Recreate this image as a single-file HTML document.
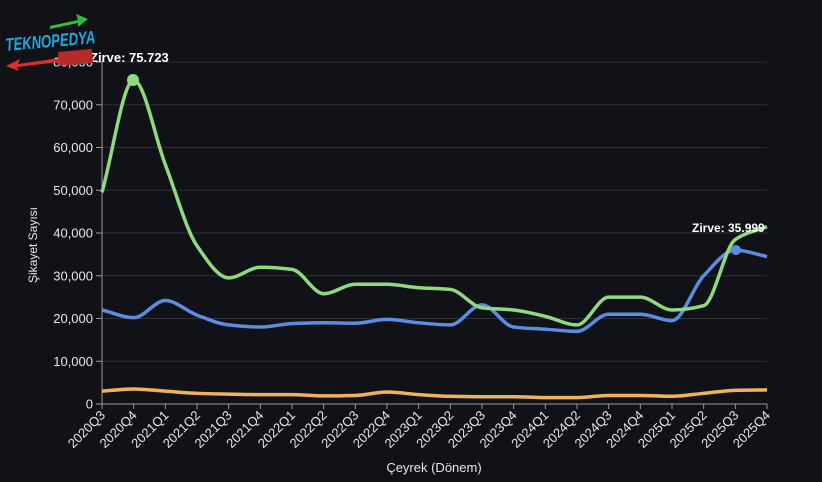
<!DOCTYPE html>
<html><head><meta charset="utf-8"><style>
body{margin:0;background:#111217;width:822px;height:482px;overflow:hidden;font-family:"Liberation Sans",sans-serif}
</style></head><body>
<svg id="s" width="822" height="482" xmlns="http://www.w3.org/2000/svg" style="position:absolute;left:0;top:0">
<rect width="822" height="482" fill="#111217"/>
<g id="grid"></g>
<g id="lines"></g>
<text x="37" y="245" fill="#e6e6e6" font-size="12" transform="rotate(-90 37 245)" text-anchor="middle">Şikayet Sayısı</text>
<text x="434" y="472" fill="#e6e6e6" font-size="13" text-anchor="middle">Çeyrek (Dönem)</text>
<circle cx="133" cy="80" r="6" fill="#8fd97f"/>
<text x="90" y="62" fill="#fff" font-size="13" font-weight="bold">Zirve: 75.723</text>
<circle cx="736" cy="250" r="5" fill="#5b8de0"/>
<text x="692" y="232" fill="#fff" font-size="12" font-weight="bold">Zirve: 35.999</text>
<g font-weight="bold" font-size="18" font-style="italic">
<text x="6" y="51" fill="#1fa8e0" transform="rotate(-5 6 51)" textLength="90" lengthAdjust="spacingAndGlyphs">TEKNOPEDYA</text>
<path d="M50 26 L78 20 L76 14 L88 19 L78 27 L78 23 L50 29Z" fill="#2fbf3f"/>
<path d="M60 58 L18 64 L20 59 L6 66 L19 71 L17 67 L60 62Z" fill="#d9302c"/>
<rect x="58" y="52" width="34" height="14" fill="#b72a2a" transform="rotate(-5 58 52)"/>
</g>
</svg>
<script>
const X0=102,X1=767,Y0=404,k=(404-62)/80000,dx=(X1-X0)/21;
const Y=v=>Y0-v*k, X=i=>X0+i*dx;
let g='';
for(let v=0;v<=80000;v+=10000){g+=`<line x1="${X0}" x2="${X1}" y1="${Y(v)}" y2="${Y(v)}" stroke="${v?'#2e3038':'#9a9a9a'}" stroke-width="1"/>`;
g+=`<line x1="${X0-6}" x2="${X0}" y1="${Y(v)}" y2="${Y(v)}" stroke="#9a9a9a"/>`;
g+=`<text x="${X0-9}" y="${Y(v)+4.5}" fill="#e6e6e6" font-size="13" text-anchor="end">${v.toLocaleString('en-US')}</text>`;}
g+=`<line x1="${X0}" x2="${X0}" y1="62" y2="${Y0}" stroke="#9a9a9a"/>`;
const labs=[];for(let y=2020;y<=2025;y++)for(let q=1;q<=4;q++){if(y==2020&&q<3)continue;labs.push(y+'Q'+q);}
labs.forEach((l,i)=>{const x=X(i);g+=`<line x1="${x}" x2="${x}" y1="${Y0}" y2="${Y0+5}" stroke="#9a9a9a"/>`;
g+=`<text x="${x+4}" y="${Y0+12}" fill="#e6e6e6" font-size="13" text-anchor="end" transform="rotate(-45 ${x+4} ${Y0+12})">${l}</text>`;});
document.getElementById('grid').innerHTML=g;
const G=[49500,75723,56000,37000,29500,32000,31500,25800,28000,28000,27200,26800,22500,22000,20500,18500,25000,25000,22000,23000,38500,41500];
const B=[22000,20200,24200,20800,18500,18000,18800,19000,18900,19800,19000,18500,23200,18000,17500,17000,21000,21000,19500,30000,35999,34500];
const O=[3000,3500,3000,2500,2300,2200,2200,1900,2000,2800,2200,1800,1700,1700,1500,1500,2000,2000,1800,2500,3200,3300];
function path(d){const p=d.map((v,i)=>[X(i),Y(v)]),n=p.length;
const s=[],m=[];for(let i=0;i<n-1;i++)s.push((p[i+1][1]-p[i][1])/dx);
m[0]=s[0];m[n-1]=s[n-2];
for(let i=1;i<n-1;i++){m[i]=(s[i-1]*s[i]<=0)?0:(2/(1/s[i-1]+1/s[i]));}
let r=`M${p[0][0]},${p[0][1]}`;
for(let i=0;i<n-1;i++){const h=dx/3;
r+=`C${p[i][0]+h},${p[i][1]+m[i]*h} ${p[i+1][0]-h},${p[i+1][1]-m[i+1]*h} ${p[i+1][0]},${p[i+1][1]}`;}return r;}
document.getElementById('lines').innerHTML=
`<path d="${path(O)}" fill="none" stroke="#f0b35a" stroke-width="3.5"/>`+
`<path d="${path(B)}" fill="none" stroke="#5b8de0" stroke-width="3.5"/>`+
`<path d="${path(G)}" fill="none" stroke="#8fd97f" stroke-width="3.5"/>`;
</script>
</body></html>
